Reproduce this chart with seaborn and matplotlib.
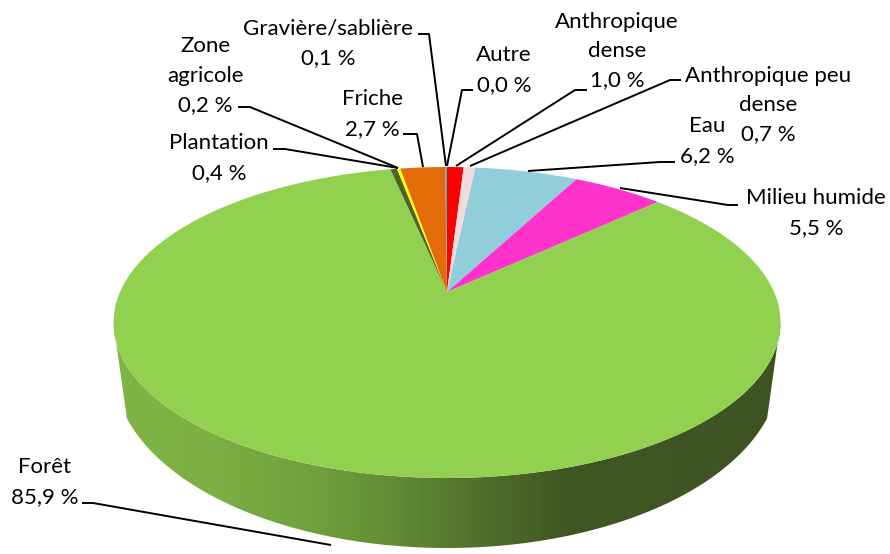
import numpy as np
import matplotlib
matplotlib.use("Agg")
import matplotlib.pyplot as plt
from matplotlib.path import Path
from matplotlib.patches import PathPatch
from matplotlib.colors import LinearSegmentedColormap
import seaborn as sns

categories = ["Autre", "Anthropique dense", "Anthropique peu dense", "Eau", "Milieu humide",
              "Forêt", "Plantation", "Zone agricole", "Friche", "Gravière/sablière"]
values = [0.0, 1.0, 0.7, 6.2, 5.5, 85.9, 0.4, 0.2, 2.7, 0.1]
slice_colors = ["#31859C", "#FF0000", "#F2DCDB", "#92CDDC", "#FF33CC",
                "#92D050", "#4F6228", "#FFFF00", "#E36C09", "#4BACC6"]
label_lines = ["Autre", "Anthropique\ndense", "Anthropique peu\ndense", "Eau", "Milieu humide",
               "Forêt", "Plantation", "Zone\nagricole", "Friche", "Gravière/sablière"]
label_pos = [(504, 69), (617, 50), (768, 104), (707, 140), (816, 212),
             (45, 481), (219, 157), (205, 75), (372, 113), (328, 42)]
leaders = [
    [(473, 90), (462, 90), (447, 166)],
    [(587, 90), (575, 90), (456, 166)],
    [(681, 80), (670, 80), (470, 166)],
    [(675, 162), (660, 162), (528, 171)],
    [(738, 205), (728, 205), (620, 188)],
    [(82, 503), (93, 503), (331, 545)],
    [(273, 149), (285, 149), (398, 168)],
    [(238, 107), (250, 107), (398, 168)],
    [(403, 134), (417, 134), (423, 167)],
    [(418, 34), (429, 34), (446, 166)],
]

# Geometry of the perspective disc, in pixels
CX, CY, A, B = 447.0, 322.5, 333.5, 155.5
APEX_Y = 292.0
C = (CY - APEX_Y) / B
BOT_CY, BOT_A, BOT_B = 369.0, 333.0, 179.0
BOT_SWEEP = 16.0
LINE_PITCH = 29.5


def project_xy(x, y):
    d = 1 + C * y
    return CX + A * np.sqrt(1 - C * C) * x / d, CY - B * (y + C) / d


def project(theta_deg):
    """Map unit-circle angles on the tilted disc to pixels."""
    t = np.radians(theta_deg)
    return project_xy(np.cos(t), np.sin(t))


sns.set_theme(style="white")
plt.rcParams["font.family"] = ["Lato", "DejaVu Sans"]

fig = plt.figure(figsize=(8.9, 5.54), dpi=100, facecolor="white")
ax = fig.add_axes([0, 0, 1, 1])
palette = sns.color_palette(slice_colors)
wedges, _ = ax.pie(values, colors=palette, startangle=90, counterclock=False, radius=1,
                   wedgeprops={"linewidth": 0})
ax.set_aspect("auto")
ax.axis("off")

# Re-project every wedge on to the tilted disc
for w in wedges:
    ts = np.linspace(w.theta1, w.theta2, 200)
    px, py = project(ts)
    ax0, ay0 = project_xy(0.0, 0.0)
    verts = np.column_stack([np.r_[ax0, px, ax0], np.r_[ay0, py, ay0]])
    w._path = Path(verts, closed=True)
    w.set_zorder(3)

# Side wall with horizontal gradient
ang_top = np.radians(np.linspace(180, 360, 300))
ang_bot = np.radians(np.linspace(180 + BOT_SWEEP, 360 - BOT_SWEEP, 300))
top_x = CX + A * np.cos(ang_top)
top_y = CY - B * np.sin(ang_top)
bot_x = CX + BOT_A * np.cos(ang_bot)
bot_y = BOT_CY - BOT_B * np.sin(ang_bot)
wall = np.column_stack([np.r_[bot_x, top_x[::-1]], np.r_[bot_y, top_y[::-1]]])
clip = PathPatch(Path(wall, closed=True), facecolor="none", edgecolor="none", transform=ax.transData)
ax.add_patch(clip)
cmap = LinearSegmentedColormap.from_list("wall", [
    (0.0, "#7FB545"), (0.15, "#7CAF44"), (0.30, "#70A03D"), (0.42, "#628C35"),
    (0.55, "#4F6F2B"), (0.68, "#405724"), (1.0, "#3E5322")])
im = ax.imshow(np.linspace(0, 1, 512)[None, :], cmap=cmap, aspect="auto",
               extent=(CX - A, CX + A, 554, 100), zorder=2)
im.set_clip_path(clip)
ax.set_xlim(0, 890)
ax.set_ylim(554, 0)

# Leaders and labels
for pts in leaders:
    xs, ys = zip(*pts)
    ax.plot(xs, ys, color="black", lw=1.4, zorder=4, solid_capstyle="butt")

for name, val, (x, y) in zip(label_lines, values, label_pos):
    lines = name.split("\n") + [f"{val:.1f}".replace(".", ",") + " %"]
    first = y - LINE_PITCH * (len(lines) - 1) / 2
    for i, line in enumerate(lines):
        ax.text(x, first + i * LINE_PITCH + 7, line, ha="center", va="baseline",
                fontsize=16, color="black", zorder=5)

fig.savefig("out.png", dpi=100, facecolor="white")
